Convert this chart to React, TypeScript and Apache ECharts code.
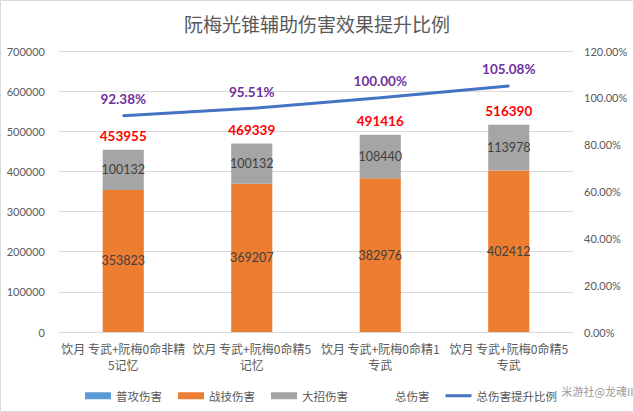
import React, { useEffect, useRef } from "react";
import * as echarts from "echarts";

const categories = [
  "饮月 专武+阮梅0命非精\n5记忆",
  "饮月 专武+阮梅0命精5\n记忆",
  "饮月 专武+阮梅0命精1\n专武",
  "饮月 专武+阮梅0命精5\n专武",
];
const normalAttack = [0, 0, 0, 0];
const skillDamage = [353823, 369207, 382976, 402412];
const ultDamage = [100132, 100132, 108440, 113978];
const totalDamage = [453955, 469339, 491416, 516390];
const totalRatio = [0.9238, 0.9551, 1.0, 1.0508];

const FONT = 'Lato, "Noto Sans CJK SC", sans-serif';
const CJK = '"Noto Sans CJK SC", Lato, sans-serif';

export default function App() {
  const ref = useRef<HTMLDivElement>(null);
  useEffect(() => {
    document.body.style.margin = "0";
    const chart = echarts.init(ref.current!, null, { renderer: "svg" });
    chart.setOption({
      animation: false,
      backgroundColor: "#ffffff",
      title: {
        text: "阮梅光锥辅助伤害效果提升比例",
        left: "center",
        top: 9,
        textStyle: { fontFamily: CJK, fontSize: 19, fontWeight: "normal", color: "#595959" },
      },
      grid: { left: 59, right: 61, top: 51, bottom: 80 },
      legend: {
        top: 385,
        left: 80,
        itemWidth: 26,
        itemHeight: 7,
        itemGap: 16,
        textStyle: { fontFamily: CJK, fontSize: 11.5, color: "#595959" },
        data: [
          { name: "普攻伤害", icon: "rect" },
          { name: "战技伤害", icon: "rect" },
          { name: "大招伤害", icon: "rect" },
          { name: "总伤害", icon: "rect", itemStyle: { color: "transparent", opacity: 0 } },
          { name: "总伤害提升比例", icon: "path://M0,0H26V3H0Z", itemStyle: { color: "#4472C4" } },
        ],
      },
      xAxis: {
        type: "category",
        data: categories,
        axisTick: { show: false },
        axisLine: { lineStyle: { color: "#D9D9D9" } },
        axisLabel: {
          fontFamily: CJK,
          fontSize: 12,
          color: "#595959",
          lineHeight: 16,
          margin: 8,
          interval: 0,
        },
      },
      yAxis: [
        {
          type: "value",
          min: 0,
          max: 700000,
          interval: 100000,
          axisLine: { show: false },
          axisTick: { show: false },
          splitLine: { lineStyle: { color: "#D9D9D9" } },
          axisLabel: {
            fontFamily: FONT,
            fontSize: 11,
            color: "#595959",
            margin: 14,
            formatter: (v: number) => String(v),
          },
        },
        {
          type: "value",
          min: 0,
          max: 1.2,
          interval: 0.2,
          axisLine: { show: false },
          axisTick: { show: false },
          splitLine: { show: false },
          axisLabel: {
            fontFamily: FONT,
            fontSize: 11,
            color: "#595959",
            margin: 11,
            formatter: (v: number) => (v * 100).toFixed(2) + "%",
          },
        },
      ],
      series: [
        {
          name: "普攻伤害",
          type: "bar",
          stack: "dmg",
          barWidth: "32%",
          data: normalAttack,
          itemStyle: { color: "#5B9BD5" },
          label: { show: false },
        },
        {
          name: "战技伤害",
          type: "bar",
          stack: "dmg",
          barWidth: "32%",
          data: skillDamage,
          itemStyle: { color: "#ED7D31" },
          label: {
            show: true,
            position: "inside",
            fontFamily: FONT,
            fontSize: 12.5,
            color: "#404040",
          },
        },
        {
          name: "大招伤害",
          type: "bar",
          stack: "dmg",
          barWidth: "32%",
          data: ultDamage,
          itemStyle: { color: "#A5A5A5" },
          label: {
            show: true,
            position: "inside",
            fontFamily: FONT,
            fontSize: 12.5,
            color: "#404040",
          },
        },
        {
          name: "总伤害",
          type: "line",
          data: totalDamage,
          symbol: "circle",
          showSymbol: true,
          symbolSize: 2,
          itemStyle: { color: "transparent" },
          lineStyle: { width: 0, opacity: 0 },
          label: {
            show: true,
            position: "top",
            distance: 6,
            fontFamily: FONT,
            fontSize: 13.5,
            fontWeight: "bold",
            color: "#FF0000",
          },
          z: 5,
        },
        {
          name: "总伤害提升比例",
          type: "line",
          yAxisIndex: 1,
          data: totalRatio,
          symbol: "circle",
          showSymbol: true,
          symbolSize: 2,
          itemStyle: { color: "#4472C4" },
          lineStyle: { width: 3, color: "#4472C4" },
          label: {
            show: true,
            position: "top",
            distance: 9,
            fontFamily: FONT,
            fontSize: 13.5,
            fontWeight: "bold",
            color: "#7030A0",
            formatter: (p: any) => (p.value * 100).toFixed(2) + "%",
          },
          z: 6,
        },
      ],
      graphic: [
        {
          type: "rect",
          shape: { x: 0.5, y: 0.5, width: 633, height: 411 },
          style: { fill: "none", stroke: "#D9D9D9", lineWidth: 1 },
          silent: true,
          z: 100,
        },
        {
          type: "text",
          left: 561,
          top: 385,
          style: {
            text: "米游社@龙魂II",
            fontFamily: CJK,
            fontSize: 11,
            fill: "#9a9a9a",
            stroke: "#ffffff",
            lineWidth: 1,
          },
          silent: true,
          z: 100,
        },
      ],
    });
    return () => chart.dispose();
  }, []);
  return <div ref={ref} style={{ width: 634, height: 412 }} />;
}
